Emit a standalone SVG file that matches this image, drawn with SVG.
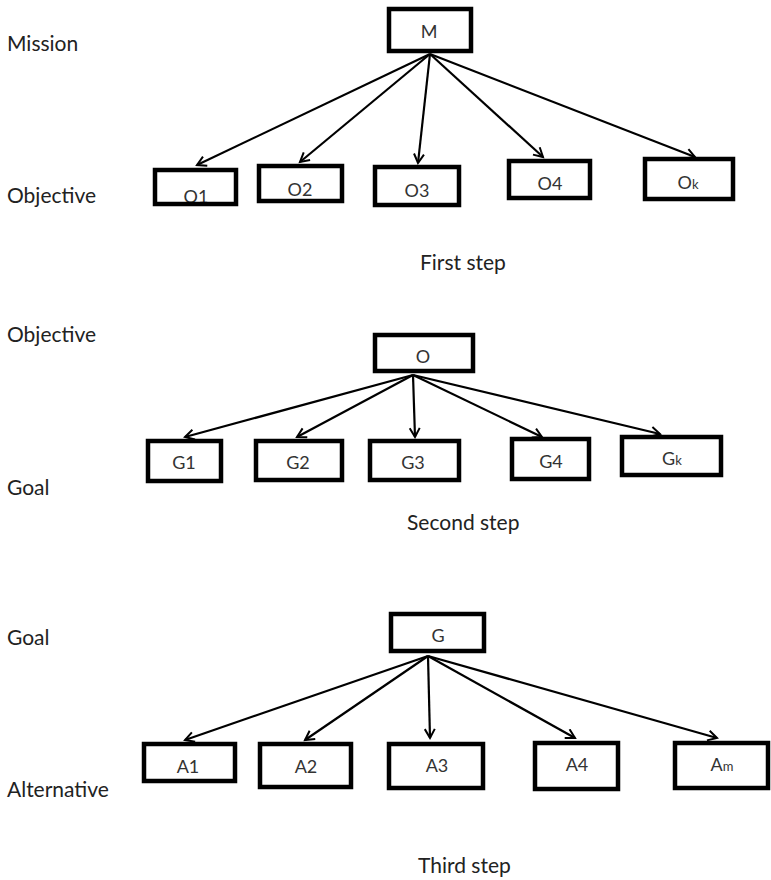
<svg xmlns="http://www.w3.org/2000/svg" width="771" height="880" viewBox="0 0 771 880">
<style>
.lbl{font-family:Lato,"Open Sans","Liberation Sans",sans-serif;font-size:21px;fill:#222}
.box{fill:none;stroke:#000;stroke-width:4.5}
.bg{fill:#fff}
.t{font-family:Lato,"Open Sans","Liberation Sans",sans-serif;font-size:18px;fill:#333;text-anchor:middle}
.sm{font-size:13px}
.c{stroke:#000;stroke-width:2.2;fill:none;marker-end:url(#arr)}
</style>
<defs>
<marker id="arr" markerUnits="userSpaceOnUse" markerWidth="14" markerHeight="14" refX="10" refY="6" orient="auto">
<path d="M1,1 L10,6 L1,11" fill="none" stroke="#000" stroke-width="2"/>
</marker>
</defs>
<rect width="771" height="880" fill="#fff"/>
<g id="labels">
<text class="lbl" x="7" y="51">Mission</text>
<text class="lbl" x="7" y="203">Objective</text>
<text class="lbl" x="420" y="270">First step</text>
<text class="lbl" x="7" y="342">Objective</text>
<text class="lbl" x="7" y="495">Goal</text>
<text class="lbl" x="407" y="530">Second step</text>
<text class="lbl" x="7" y="645">Goal</text>
<text class="lbl" x="7" y="797">Alternative</text>
<text class="lbl" x="418" y="873">Third step</text>
</g>
<g id="connectors">
<line class="c" x1="430" y1="54" x2="197" y2="165"/>
<line class="c" x1="430" y1="54" x2="300" y2="162"/>
<line class="c" x1="430" y1="54" x2="418" y2="163"/>
<line class="c" x1="430" y1="54" x2="543" y2="157"/>
<line class="c" x1="430" y1="54" x2="695" y2="157"/>
<line class="c" x1="413" y1="375" x2="185" y2="437"/>
<line class="c" x1="413" y1="375" x2="297" y2="437"/>
<line class="c" x1="413" y1="375" x2="415" y2="437"/>
<line class="c" x1="413" y1="375" x2="542" y2="437"/>
<line class="c" x1="413" y1="375" x2="660" y2="434"/>
<line class="c" x1="428" y1="656" x2="185" y2="740"/>
<line class="c" x1="428" y1="656" x2="305" y2="740"/>
<line class="c" x1="428" y1="656" x2="430" y2="738"/>
<line class="c" x1="428" y1="656" x2="575" y2="738"/>
<line class="c" x1="428" y1="656" x2="717" y2="738"/>
</g>
<g id="M"><rect class="bg" x="389" y="9" width="82" height="42"/><text class="t" x="429" y="38">M</text><rect class="box" x="389" y="9" width="82" height="42"/></g>
<g id="O1"><rect class="bg" x="155" y="170" width="81" height="34"/><text class="t" x="196" y="203">O1</text><rect class="box" x="155" y="170" width="81" height="34"/></g>
<g id="O2"><rect class="bg" x="259" y="166" width="83" height="35"/><text class="t" x="300" y="196">O2</text><rect class="box" x="259" y="166" width="83" height="35"/></g>
<g id="O3"><rect class="bg" x="375" y="167" width="84" height="38"/><text class="t" x="417" y="197">O3</text><rect class="box" x="375" y="167" width="84" height="38"/></g>
<g id="O4"><rect class="bg" x="509" y="161" width="81" height="37"/><text class="t" x="550" y="190">O4</text><rect class="box" x="509" y="161" width="81" height="37"/></g>
<g id="Ok"><rect class="bg" x="645" y="159" width="88" height="40"/><text class="t" x="688" y="189">O<tspan class="sm">k</tspan></text><rect class="box" x="645" y="159" width="88" height="40"/></g>
<g id="O"><rect class="bg" x="375" y="335" width="98" height="36"/><text class="t" x="423" y="363">O</text><rect class="box" x="375" y="335" width="98" height="36"/></g>
<g id="G1"><rect class="bg" x="148" y="441" width="73" height="40"/><text class="t" x="184" y="469">G1</text><rect class="box" x="148" y="441" width="73" height="40"/></g>
<g id="G2"><rect class="bg" x="256" y="441" width="86" height="39"/><text class="t" x="298" y="469">G2</text><rect class="box" x="256" y="441" width="86" height="39"/></g>
<g id="G3"><rect class="bg" x="370" y="441" width="89" height="39"/><text class="t" x="413" y="469">G3</text><rect class="box" x="370" y="441" width="89" height="39"/></g>
<g id="G4"><rect class="bg" x="512" y="439" width="77" height="40"/><text class="t" x="551" y="468">G4</text><rect class="box" x="512" y="439" width="77" height="40"/></g>
<g id="Gk"><rect class="bg" x="622" y="437" width="99" height="38"/><text class="t" x="672" y="465">G<tspan class="sm">k</tspan></text><rect class="box" x="622" y="437" width="99" height="38"/></g>
<g id="G"><rect class="bg" x="391" y="614" width="93" height="37"/><text class="t" x="438" y="642">G</text><rect class="box" x="391" y="614" width="93" height="37"/></g>
<g id="A1"><rect class="bg" x="144" y="744" width="91" height="37"/><text class="t" x="188" y="773">A1</text><rect class="box" x="144" y="744" width="91" height="37"/></g>
<g id="A2"><rect class="bg" x="260" y="744" width="91" height="43"/><text class="t" x="306" y="773">A2</text><rect class="box" x="260" y="744" width="91" height="43"/></g>
<g id="A3"><rect class="bg" x="389" y="744" width="94" height="44"/><text class="t" x="437" y="772">A3</text><rect class="box" x="389" y="744" width="94" height="44"/></g>
<g id="A4"><rect class="bg" x="535" y="743" width="83" height="46"/><text class="t" x="577" y="771">A4</text><rect class="box" x="535" y="743" width="83" height="46"/></g>
<g id="Am"><rect class="bg" x="675" y="743" width="93" height="45"/><text class="t" x="722" y="771">A<tspan class="sm">m</tspan></text><rect class="box" x="675" y="743" width="93" height="45"/></g>
</svg>
